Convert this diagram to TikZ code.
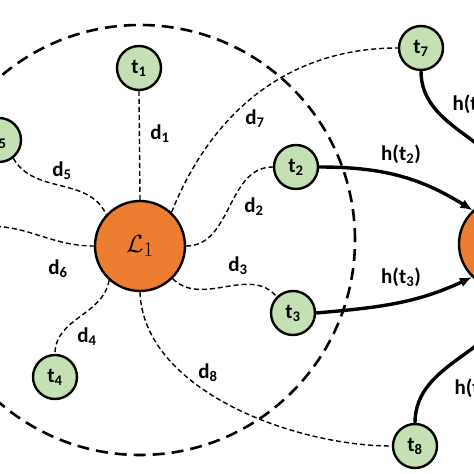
\documentclass[tikz,border=0pt]{standalone}
\usepackage{fontspec}
\setmainfont{Carlito}
\usetikzlibrary{arrows.meta}
\definecolor{leaf}{HTML}{C5E0B4}
\definecolor{hub}{HTML}{ED7D31}

\begin{document}
\begin{tikzpicture}[x=1pt,y=1pt,>={Latex[length=12pt,width=10pt]},
  font=\fontsize{21}{24}\selectfont\bfseries,
  tnode/.style={circle,draw,line width=2.4pt,fill=leaf,minimum size=44pt,inner sep=0pt},
  lnode/.style={circle,draw,line width=2.4pt,fill=hub,minimum size=90pt,inner sep=0pt,
    font=\fontsize{30}{34}\selectfont},
  link/.style={line width=1.4pt,dash pattern=on 5pt off 3pt},
  rangeline/.style={line width=2.6pt,dash pattern=on 12pt off 7pt},
  hop/.style={->,line width=3.4pt}]
\useasboundingbox (0,0) rectangle (474,474);
\clip (0,0) rectangle (474,474);

% range of the leader
\draw[rangeline] (140,234) circle (215pt);

% leaders
\node[lnode] (L1) at (140,228) {$\mathcal{L}_1$};
\node[lnode] (L2) at (504,230) {};

% members
\node[tnode] (t1) at (139,406) {t\textsubscript{1}};
\node[tnode] (t2) at (296,307) {t\textsubscript{2}};
\node[tnode] (t3) at (293,161) {t\textsubscript{3}};
\node[tnode] (t4) at (55,97) {t\textsubscript{4}};
\node[tnode] (t5) at (-1,334) {t\textsubscript{5}};
\node[tnode] (t7) at (421,426) {t\textsubscript{7}};
\node[tnode] (t8) at (415,28) {t\textsubscript{8}};
\coordinate (e6) at (-12,248);

% distances to L1
\draw[link] (L1.north) -- (t1.south);
\draw[link] (L1.east) to[out=0,in=180] (t2.west);
\draw[link] (L1.-45) to[out=-45,in=130] (t3.135);
\draw[link] (L1.-132) to[out=-100,in=90] (t4.north);
\draw[link] (t5.-52) to[out=-60,in=115] (L1.137);
\draw[link] (e6) to[out=0,in=180] (L1.west);
\draw[link] (L1.47) to[out=68,in=180] (t7.west);
\draw[link] (L1.south) to[out=-88,in=180,looseness=.85] (t8.west);

\node (d1) at (160,340) {d\textsubscript{1}};
\node (d2) at (254,267) {d\textsubscript{2}};
\node (d3) at (238,208) {d\textsubscript{3}};
\node (d4) at (87,137) {d\textsubscript{4}};
\node (d5) at (62,303) {d\textsubscript{5}};
\node (d6) at (58,205) {d\textsubscript{6}};
\node (d7) at (255,355) {d\textsubscript{7}};
\node (d8) at (208,101) {d\textsubscript{8}};

% hops to L2
\draw[hop] (t2.east) to[out=0,in=148] (L2.133);
\draw[hop] (t3.east) to[out=5,in=-155] (L2.-134);
\draw[hop] (t7.south) to[out=-90,in=90] (L2.north);
\draw[hop] (t8.north) to[out=90,in=-90] (L2.south);

\node (h2) at (401,320) {h(t\textsubscript{2})};
\node (h3) at (401,197) {h(t\textsubscript{3})};
\node[anchor=west] (h7) at (449,370) {h(t\textsubscript{7})};
\node[anchor=west] (h8) at (451,86) {h(t\textsubscript{8})};

\end{tikzpicture}
\end{document}
